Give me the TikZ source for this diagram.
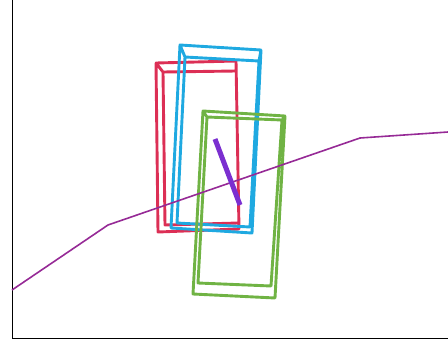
\documentclass[tikz,border=0pt]{standalone}
\usepackage{xcolor}
\definecolor{boxred}{HTML}{DC2F55}
\definecolor{boxblue}{HTML}{1FA9E1}
\definecolor{boxgreen}{HTML}{70B344}
\definecolor{stickviolet}{HTML}{7B2FD0}
\definecolor{roadpurple}{HTML}{962A96}
\tikzset{
  boxline/.style={line width=2.9pt,line join=round,line cap=round},
  stickline/.style={line width=5pt,stickviolet},
  roadline/.style={line width=1.6pt,roadpurple,line join=round},
  frameline/.style={line width=1pt,black}
}
\begin{document}
\begin{tikzpicture}[x=1pt,y=-1pt]
\useasboundingbox (0,0)rectangle(448,343);

\draw[frameline]
(12,0)--(12,338)--(448,338);

\draw[boxline,boxred]
(156,63)--(236,61)--(239,229)--(158,232)--cycle
(163,72)--(236,71)
(163,72)--(165,225)--(238,223)
(156,63)--(163,72);

\draw[boxline,boxblue]
(180,45)--(261,50)--(252,233)--(171,228)--cycle
(185,57)--(259,61)--(250,227)--(177,223)--cycle
(180,45)--(185,57)
(261,50)--(259,61);

\draw[boxline,boxgreen]
(203,111)--(285,116)--(275,298)--(193,294)--cycle
(207,117)--(282,120)--(271,286)--(198,283)--cycle
(203,111)--(207,117)
(285,116)--(282,120);

\draw[roadline]
(12,290)--(108,225)--(360,138)--(448,132);

\draw[stickline]
(215,139)--(240,205);
\end{tikzpicture}
\end{document}
